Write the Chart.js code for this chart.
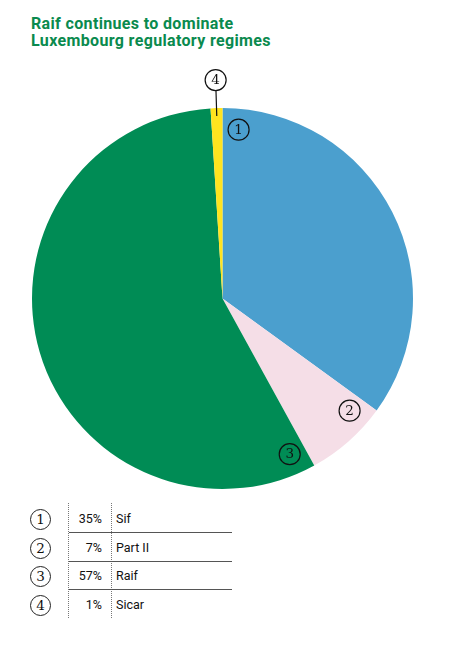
<!DOCTYPE html>
<html>
<head>
<meta charset="utf-8">
<script src="https://cdn.jsdelivr.net/npm/chart.js@4"></script>
<style>
  html, body { margin: 0; padding: 0; background: #fff; }
  body { width: 459px; height: 649px; position: relative; overflow: hidden; font-family: Roboto, "Noto Sans", sans-serif; }
  .title { position: absolute; left: 31px; top: 16px; color: #0a8a4e; font-weight: 700; font-size: 16px; line-height: 16.5px; letter-spacing: 0.35px; }
  .chart-box { position: absolute; left: 0; top: 60px; width: 445px; height: 440px; }
  .num { position: absolute; width: 19px; height: 19px; border: 1.2px solid #222; border-radius: 50%; font-family: "DejaVu Serif", "Liberation Serif", serif; font-size: 13.5px; line-height: 19px; text-align: center; color: #111; }
  .pct { position: absolute; width: 40px; text-align: right; font-size: 12.5px; color: #111; }
  .lab { position: absolute; font-size: 12.5px; color: #111; }
  .vline { position: absolute; width: 0; border-left: 1px dotted #777; }
  .hline { position: absolute; height: 0; border-top: 1.5px solid #555; }
</style>
</head>
<body>
<div class="title">Raif continues to dominate<br>Luxembourg regulatory regimes</div>
<div class="chart-box"><canvas id="pie"></canvas></div>
<div id="legend"></div>
<script>
// data
const categories = ['Sif', 'Part II', 'Raif', 'Sicar'];
const shares = [35, 7, 57, 1];
const markers = ['1', '2', '3', '4'];
const colors = ['#4b9fce', '#f5dee7', '#008c55', '#ffe41f'];

// numbered circles on the slices
const markerPlugin = {
  id: 'markers',
  afterDatasetsDraw(chart) {
    const ctx = chart.ctx;
    const arcs = chart.getDatasetMeta(0).data;
    arcs.forEach((arc, i) => {
      const p = arc.getProps(['x', 'y', 'startAngle', 'endAngle', 'outerRadius'], true);
      const span = p.endAngle - p.startAngle;
      let a, r;
      if (span < 0.1) {
        // tiny slice: label outside with a leader
        a = (p.startAngle + p.endAngle) / 2;
        r = p.outerRadius + 28;
        ctx.save();
        ctx.strokeStyle = '#111';
        ctx.lineWidth = 1.2;
        ctx.beginPath();
        ctx.moveTo(p.x + Math.cos(a) * (p.outerRadius - 8), p.y + Math.sin(a) * (p.outerRadius - 8));
        ctx.lineTo(p.x + Math.cos(a) * (p.outerRadius + 17), p.y + Math.sin(a) * (p.outerRadius + 17));
        ctx.stroke();
        ctx.restore();
      } else {
        a = p.startAngle + 0.095;
        r = p.outerRadius * 0.89;
      }
      const cx = p.x + Math.cos(a) * r;
      const cy = p.y + Math.sin(a) * r;
      ctx.save();
      ctx.beginPath();
      ctx.arc(cx, cy, 10.5, 0, Math.PI * 2);
      if (span < 0.1) { ctx.fillStyle = '#fff'; ctx.fill(); }
      ctx.strokeStyle = '#111';
      ctx.lineWidth = 1.2;
      ctx.stroke();
      ctx.fillStyle = '#111';
      ctx.font = '13.5px "DejaVu Serif", "Liberation Serif", serif';
      ctx.textAlign = 'center';
      ctx.textBaseline = 'middle';
      ctx.fillText(markers[i], cx, cy + 0.5);
      ctx.restore();
    });
  }
};

new Chart(document.getElementById('pie').getContext('2d'), {
  type: 'pie',
  data: {
    labels: categories,
    datasets: [{
      data: shares,
      backgroundColor: colors,
      borderWidth: 0
    }]
  },
  options: {
    responsive: true,
    maintainAspectRatio: false,
    animation: false,
    layout: { padding: { left: 32, right: 32, top: 48, bottom: 11 } },
    plugins: {
      legend: { display: false },
      tooltip: { enabled: false }
    }
  },
  plugins: [markerPlugin]
});

// table legend below
const legend = document.getElementById('legend');
const rowY = [519, 548, 576, 605];
let html = '';
html += '<div class="vline" style="left:68px;top:503px;height:115px"></div>';
html += '<div class="vline" style="left:111px;top:503px;height:115px"></div>';
categories.forEach((c, i) => {
  const y = rowY[i];
  html += '<div class="num" style="left:30px;top:' + (y - 10.5) + 'px">' + markers[i] + '</div>';
  html += '<div class="pct" style="left:62px;top:' + (y - 8) + 'px">' + shares[i] + '%</div>';
  html += '<div class="lab" style="left:116px;top:' + (y - 8) + 'px">' + c + '</div>';
  if (i < categories.length - 1) {
    html += '<div class="hline" style="left:69px;width:163px;top:' + (y + 13) + 'px"></div>';
  }
});
legend.innerHTML = html;
</script>
</body>
</html>
